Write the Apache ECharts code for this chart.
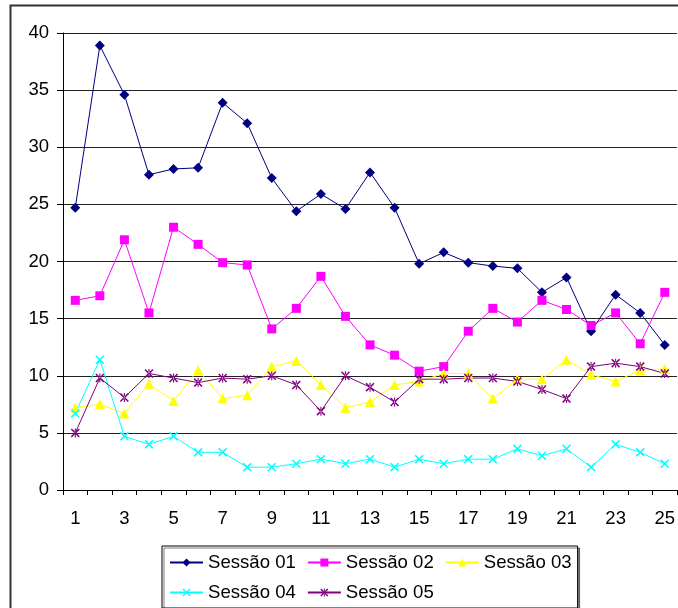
<!DOCTYPE html>
<html>
<head>
<meta charset="utf-8">
<script src="https://cdn.jsdelivr.net/npm/echarts@6/dist/echarts.min.js"></script>
<style>
html,body{margin:0;padding:0;background:#fff;}
#chart{width:678px;height:608px;}
</style>
</head>
<body>
<div id="chart"></div>
<script>
var categories = ['1','2','3','4','5','6','7','8','9','10','11','12','13','14','15','16','17','18','19','20','21','22','23','24','25'];
var sessao01 = [24.7,38.9,34.6,27.6,28.1,28.2,33.9,32.1,27.3,24.4,25.9,24.6,27.8,24.7,19.8,20.8,19.9,19.6,19.4,17.3,18.6,13.9,17.1,15.5,12.7];
var sessao02 = [16.6,17.0,21.9,15.5,23.0,21.5,19.9,19.7,14.1,15.9,18.7,15.2,12.7,11.8,10.4,10.8,13.9,15.9,14.7,16.6,15.8,14.4,15.5,12.8,17.3];
var sessao03 = [7.2,7.5,6.7,9.3,7.8,10.5,8.0,8.3,10.8,11.3,9.2,7.2,7.7,9.2,9.5,10.2,10.2,8.0,9.7,9.7,11.4,10.1,9.5,10.5,10.6];
var sessao04 = [6.7,11.4,4.7,4.0,4.7,3.3,3.3,2.0,2.0,2.3,2.7,2.3,2.7,2.0,2.7,2.3,2.7,2.7,3.6,3.0,3.6,2.0,4.0,3.3,2.3];
var sessao05 = [5.0,9.8,8.1,10.2,9.8,9.4,9.8,9.7,10.0,9.2,6.9,10.0,9.0,7.7,9.7,9.7,9.8,9.8,9.5,8.8,8.0,10.8,11.1,10.8,10.2];
var yTicks = {min: 0, max: 40, interval: 5};

var FONT = '"Liberation Sans", Arial, sans-serif';
var xSym = 'path://M0,1.2 L1.2,0 L5,3.8 L8.8,0 L10,1.2 L6.2,5 L10,8.8 L8.8,10 L5,6.2 L1.2,10 L0,8.8 L3.8,5 Z';
var starSym = 'path://M0,1.2 L1.2,0 L5,3.8 L8.8,0 L10,1.2 L6.2,5 L10,8.8 L8.8,10 L5,6.2 L1.2,10 L0,8.8 L3.8,5 Z M4.4,0 L4.4,10 L5.6,10 L5.6,0 Z';

function mk(name, data, color, symbol, size) {
  return {
    name: name, type: 'line', data: data,
    symbol: symbol, symbolSize: size, showSymbol: true,
    lineStyle: {color: color, width: 1},
    itemStyle: {color: color},
    animation: false
  };
}

var chart = echarts.init(document.getElementById('chart'));
chart.setOption({
  backgroundColor: '#fff',
  animation: false,
  graphic: [{
    type: 'rect', shape: {x: 10.5, y: 5.5, width: 700, height: 700},
    style: {fill: 'none', stroke: '#333', lineWidth: 2}, z: -1
  }],
  grid: {left: 63, top: 33, width: 617, height: 457, containLabel: false},
  legend: {
    left: 162, top: 546, width: 424,
    padding: [7, 6, 6, 7], itemGap: 11,
    itemWidth: 33, itemHeight: 10,
    borderColor: '#000', borderWidth: 1,
    shadowColor: 'rgba(0,0,0,0.5)', shadowOffsetX: 2, shadowOffsetY: 2, shadowBlur: 0,
    backgroundColor: '#fff',
    textStyle: {fontFamily: FONT, fontSize: 18.6, color: '#000'},
    data: ['Sessão 01','Sessão 02','Sessão 03','Sessão 04','Sessão 05']
  },
  xAxis: {
    type: 'category', data: categories, boundaryGap: true,
    axisLine: {lineStyle: {color: '#000', width: 1}},
    axisTick: {show: true, interval: 0, length: 5, lineStyle: {color: '#000'}},
    axisLabel: {interval: 1, margin: 19, fontFamily: FONT, fontSize: 18.5, color: '#000'},
    splitLine: {show: false}
  },
  yAxis: {
    type: 'value', min: yTicks.min, max: yTicks.max, interval: yTicks.interval,
    axisLine: {show: true, lineStyle: {color: '#000', width: 1}},
    axisTick: {show: true, length: 6, lineStyle: {color: '#000'}},
    axisLabel: {margin: 14, fontFamily: FONT, fontSize: 18.5, color: '#000'},
    splitLine: {show: true, lineStyle: {color: '#222', width: 1}}
  },
  series: [
    mk('Sessão 01', sessao01, '#000080', 'diamond', 10),
    mk('Sessão 02', sessao02, '#FF00FF', 'rect', 9),
    mk('Sessão 03', sessao03, '#FFFF00', 'triangle', 10),
    mk('Sessão 04', sessao04, '#00FFFF', xSym, 9),
    mk('Sessão 05', sessao05, '#800080', starSym, 9)
  ]
});
</script>
</body>
</html>
